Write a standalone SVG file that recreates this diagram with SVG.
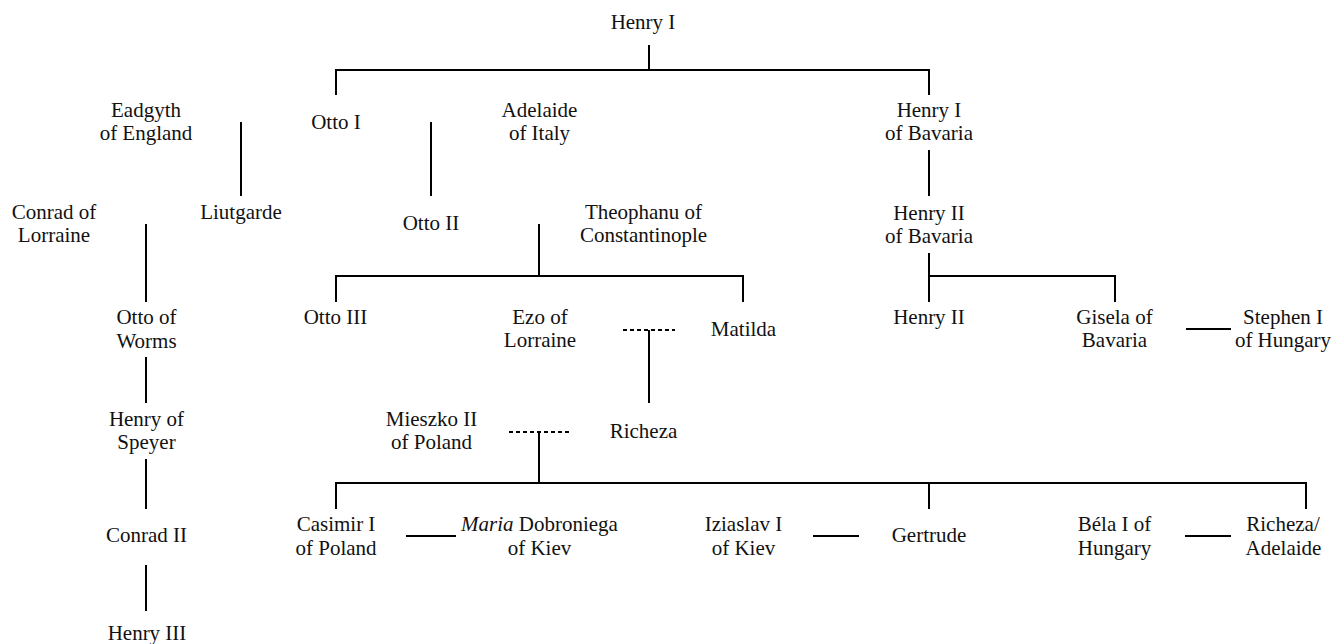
<svg xmlns="http://www.w3.org/2000/svg" width="1332" height="644" viewBox="0 0 1332 644">
<style>
text{font-family:"Liberation Serif","Times New Roman",serif;font-size:21px;fill:#111;text-anchor:middle}
.l{stroke:#000;stroke-width:2;fill:none}
.d{stroke:#000;stroke-width:2;fill:none;stroke-dasharray:4 3}
</style>
<rect width="1332" height="644" fill="#fff"/>
<g id="connectors">
<path class="l" d="M649 45V70M336 95V70H929V95"/>
<path class="l" d="M241 122V196"/>
<path class="l" d="M431 122V196"/>
<path class="l" d="M929 150V196"/>
<path class="l" d="M929 253V276M929 302V276H1115V302"/>
<path class="l" d="M146 224V302"/>
<path class="l" d="M539 224V276M336 302V276H743V302"/>
<path class="l" d="M1186 329H1231"/>
<path class="d" d="M623 330H675"/>
<path class="l" d="M649 330V403"/>
<path class="l" d="M146 357V403"/>
<path class="d" d="M509 432H569"/>
<path class="l" d="M539 432V483M336 509V483H1306V509M929 483V509"/>
<path class="l" d="M146 459V509"/>
<path class="l" d="M146 565V611"/>
<path class="l" d="M406 536H456"/>
<path class="l" d="M813 536H859"/>
<path class="l" d="M1185 536H1231"/>
</g>
<g id="henry-i"><text x="643" y="29">Henry I</text></g>
<g id="eadgyth"><text x="146" y="117">Eadgyth</text><text x="146" y="140">of England</text></g>
<g id="otto-i"><text x="336" y="128.5">Otto I</text></g>
<g id="adelaide"><text x="539.5" y="117">Adelaide</text><text x="539.5" y="140">of Italy</text></g>
<g id="henry-i-bavaria"><text x="929" y="117">Henry I</text><text x="929" y="140">of Bavaria</text></g>
<g id="conrad-lorraine"><text x="54" y="219">Conrad of</text><text x="54" y="242">Lorraine</text></g>
<g id="liutgarde"><text x="241" y="219">Liutgarde</text></g>
<g id="otto-ii"><text x="431" y="230">Otto II</text></g>
<g id="theophanu"><text x="643.5" y="219">Theophanu of</text><text x="643.5" y="242">Constantinople</text></g>
<g id="henry-ii-bavaria"><text x="929" y="220">Henry II</text><text x="929" y="243">of Bavaria</text></g>
<g id="otto-worms"><text x="146.5" y="324">Otto of</text><text x="146.5" y="347.5">Worms</text></g>
<g id="otto-iii"><text x="335.5" y="323.5">Otto III</text></g>
<g id="ezo"><text x="540" y="323.5">Ezo of</text><text x="540" y="347">Lorraine</text></g>
<g id="matilda"><text x="743.5" y="336">Matilda</text></g>
<g id="henry-ii"><text x="929" y="323.5">Henry II</text></g>
<g id="gisela"><text x="1114.5" y="323.5">Gisela of</text><text x="1114.5" y="347">Bavaria</text></g>
<g id="stephen"><text x="1283" y="323.5">Stephen I</text><text x="1283" y="347">of Hungary</text></g>
<g id="henry-speyer"><text x="146.5" y="425.5">Henry of</text><text x="146.5" y="449">Speyer</text></g>
<g id="mieszko"><text x="431.5" y="425.5">Mieszko II</text><text x="431.5" y="449">of Poland</text></g>
<g id="richeza"><text x="643.5" y="437.5">Richeza</text></g>
<g id="conrad-ii"><text x="146.5" y="542">Conrad II</text></g>
<g id="casimir"><text x="336" y="531">Casimir I</text><text x="336" y="554.5">of Poland</text></g>
<g id="maria"><text x="539.5" y="531"><tspan font-style="italic">Maria</tspan> Dobroniega</text><text x="539.5" y="554.5">of Kiev</text></g>
<g id="iziaslav"><text x="743.5" y="531">Iziaslav I</text><text x="743.5" y="554.5">of Kiev</text></g>
<g id="gertrude"><text x="929" y="542">Gertrude</text></g>
<g id="bela"><text x="1114.5" y="531">Béla I of</text><text x="1114.5" y="554.5">Hungary</text></g>
<g id="richeza-adelaide"><text x="1283" y="531">Richeza/</text><text x="1283.5" y="554.5">Adelaide</text></g>
<g id="henry-iii"><text x="147" y="639.5">Henry III</text></g>
</svg>
